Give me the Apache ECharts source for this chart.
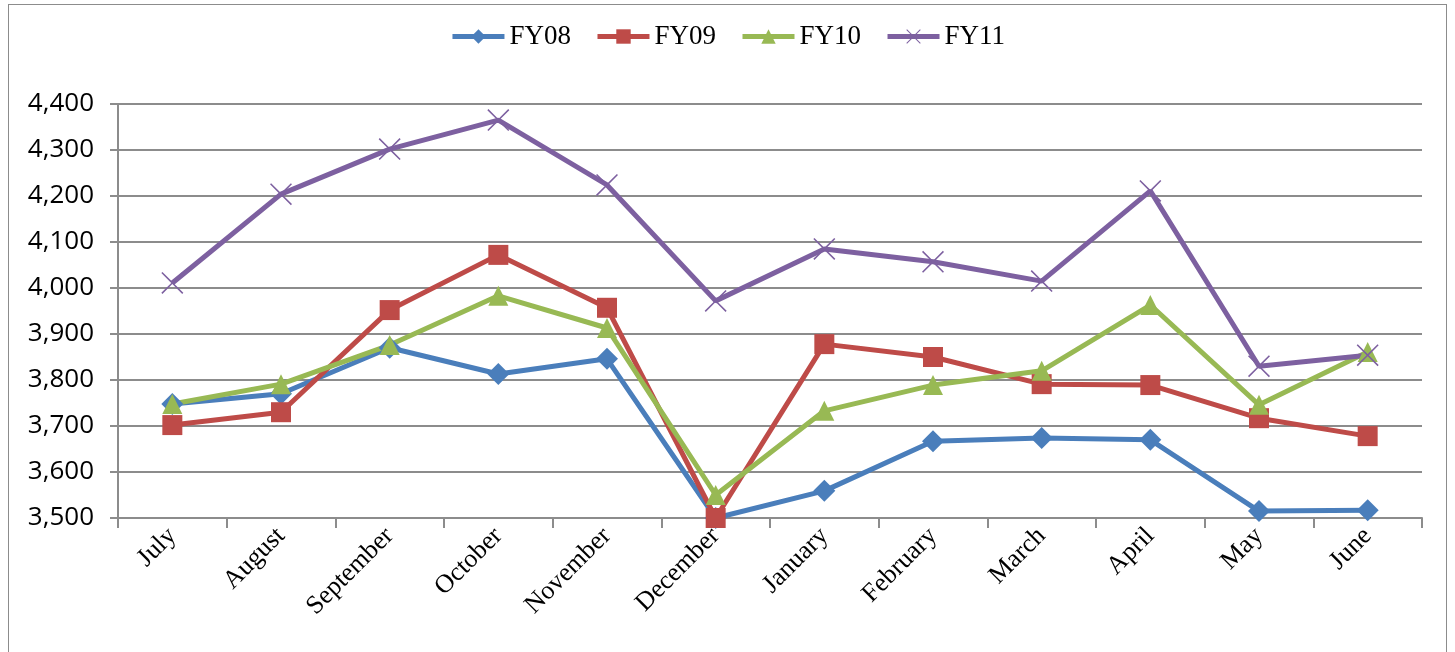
<!DOCTYPE html>
<html>
<head>
<meta charset="utf-8">
<script src="https://cdn.jsdelivr.net/npm/echarts@6/dist/echarts.min.js"></script>
<style>
  html, body { margin: 0; padding: 0; background: #fff; }
  #frame { position: absolute; left: 8px; top: 4px; width: 1437px; height: 660px; border: 1px solid #8c8c8c; }
  #chart { position: absolute; left: 0; top: 0; width: 1455px; height: 652px; }
</style>
</head>
<body>
<div id="frame"></div>
<div id="chart"></div>
<script>
// 月份 (财年从七月开始)
const months = ['July', 'August', 'September', 'October', 'November', 'December',
  'January', 'February', 'March', 'April', 'May', 'June'];

const fy08 = [3748, 3770, 3870, 3813, 3846, 3500, 3559, 3667, 3674, 3670, 3515, 3517];
const fy09 = [3702, 3730, 3952, 4072, 3957, 3500, 3878, 3850, 3791, 3789, 3717, 3678];
const fy10 = [3748, 3791, 3876, 3983, 3913, 3550, 3733, 3789, 3820, 3963, 3746, 3861];
const fy11 = [4011, 4204, 4302, 4365, 4224, 3972, 4085, 4057, 4015, 4211, 3830, 3854];

const yTicks = [3500, 3600, 3700, 3800, 3900, 4000, 4100, 4200, 4300, 4400];

const xMark = 'path://M0,1 L1,0 L10,9 L19,0 L20,1 L11,10 L20,19 L19,20 L10,11 L1,20 L0,19 L9,10 Z';

function line(name, data, color, symbol, size) {
  return {
    name: name,
    type: 'line',
    data: data,
    symbol: symbol,
    symbolSize: size,
    lineStyle: { width: 5, color: color },
    itemStyle: { color: color },
    emphasis: { disabled: true }
  };
}

const chart = echarts.init(document.getElementById('chart'));
chart.setOption({
  animation: false,
  legend: {
    top: 18,
    left: 'center',
    itemWidth: 52,
    itemHeight: 18,
    itemGap: 24,
    lineStyle: { width: 5 },
    textStyle: { fontFamily: 'Liberation Serif', fontSize: 27, color: '#000' },
    data: ['FY08', 'FY09', 'FY10', 'FY11']
  },
  grid: { left: 118, right: 33, top: 104, bottom: 134 },
  xAxis: {
    type: 'category',
    data: months,
    boundaryGap: true,
    axisLine: { lineStyle: { color: '#8c8c8c', width: 2 } },
    axisTick: { show: true, length: 10, lineStyle: { color: '#8c8c8c', width: 2 } },
    axisLabel: {
      rotate: 45,
      margin: 14,
      interval: 0,
      fontFamily: 'Liberation Serif',
      fontSize: 26,
      color: '#000'
    }
  },
  yAxis: {
    type: 'value',
    min: yTicks[0],
    max: yTicks[yTicks.length - 1],
    interval: 100,
    axisLine: { show: true, lineStyle: { color: '#8c8c8c', width: 2 } },
    axisTick: { show: true, length: 8, lineStyle: { color: '#8c8c8c', width: 2 } },
    splitLine: { lineStyle: { color: '#8c8c8c', width: 2 } },
    axisLabel: {
      margin: 24,
      fontFamily: 'Open Sans',
      fontSize: 26,
      color: '#000',
      formatter: v => v.toLocaleString('en-US')
    }
  },
  series: [
    line('FY08', fy08, '#4a7ebb', 'diamond', 22),
    line('FY09', fy09, '#be4b48', 'rect', 20),
    line('FY10', fy10, '#98b954', 'triangle', 20),
    line('FY11', fy11, '#7d60a0', xMark, 22)
  ]
});
</script>
</body>
</html>
